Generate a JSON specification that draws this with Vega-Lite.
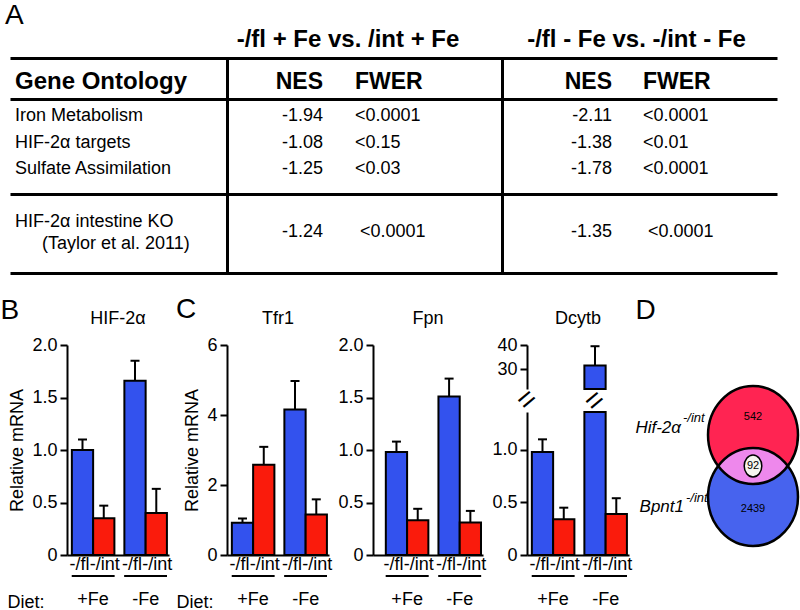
{
"$schema": "https://vega.github.io/schema/vega-lite/v6.json",
"padding": {"left": 0, "top": 2, "right": 0, "bottom": 0},
"background": "white",
"config": {
  "font": "Liberation Sans",
  "view": {"stroke": null},
  "axis": {"domainColor": "black", "tickColor": "black", "labelColor": "black", "titleColor": "black", "labelFontSize": 18, "titleFontSize": 18, "titleFontWeight": "normal", "domainWidth": 2, "tickWidth": 2, "tickSize": 7, "labelPadding": 3, "grid": false, "titlePadding": 5},
  "title": {"color": "black", "fontWeight": "normal"}
},
"datasets": {
  "table": [
    {"row": -1, "col": 1.5, "text": "-/fl + Fe vs. /int + Fe"},
    {"row": -1, "col": 3.5, "text": "-/fl - Fe vs. -/int - Fe"},
    {"row": 0, "col": 0, "text": "Gene Ontology"},
    {"row": 0, "col": 1, "text": "NES"},
    {"row": 0, "col": 2, "text": "FWER"},
    {"row": 0, "col": 3, "text": "NES"},
    {"row": 0, "col": 4, "text": "FWER"},
    {"row": 1, "col": 0, "text": "Iron Metabolism"},
    {"row": 1, "col": 1, "text": "-1.94"},
    {"row": 1, "col": 2, "text": "<0.0001"},
    {"row": 1, "col": 3, "text": "-2.11"},
    {"row": 1, "col": 4, "text": "<0.0001"},
    {"row": 2, "col": 0, "text": "HIF-2α targets"},
    {"row": 2, "col": 1, "text": "-1.08"},
    {"row": 2, "col": 2, "text": "<0.15"},
    {"row": 2, "col": 3, "text": "-1.38"},
    {"row": 2, "col": 4, "text": "<0.01"},
    {"row": 3, "col": 0, "text": "Sulfate Assimilation"},
    {"row": 3, "col": 1, "text": "-1.25"},
    {"row": 3, "col": 2, "text": "<0.03"},
    {"row": 3, "col": 3, "text": "-1.78"},
    {"row": 3, "col": 4, "text": "<0.0001"},
    {"row": 4, "col": 0, "text": "HIF-2α intestine KO", "sub": "(Taylor et al. 2011)"},
    {"row": 4, "col": 1, "text": "-1.24"},
    {"row": 4, "col": 2, "text": "<0.0001"},
    {"row": 4, "col": 3, "text": "-1.35"},
    {"row": 4, "col": 4, "text": "<0.0001"}
  ],
  "bars": [
    {"gene": "HIF-2α", "diet": "+Fe", "genotype": "-/fl", "mean": 1.0, "upper": 1.1},
    {"gene": "HIF-2α", "diet": "+Fe", "genotype": "-/int", "mean": 0.35, "upper": 0.47},
    {"gene": "HIF-2α", "diet": "-Fe", "genotype": "-/fl", "mean": 1.66, "upper": 1.85},
    {"gene": "HIF-2α", "diet": "-Fe", "genotype": "-/int", "mean": 0.4, "upper": 0.63},
    {"gene": "Tfr1", "diet": "+Fe", "genotype": "-/fl", "mean": 0.92, "upper": 1.04},
    {"gene": "Tfr1", "diet": "+Fe", "genotype": "-/int", "mean": 2.58, "upper": 3.09},
    {"gene": "Tfr1", "diet": "-Fe", "genotype": "-/fl", "mean": 4.16, "upper": 4.97},
    {"gene": "Tfr1", "diet": "-Fe", "genotype": "-/int", "mean": 1.16, "upper": 1.59},
    {"gene": "Fpn", "diet": "+Fe", "genotype": "-/fl", "mean": 0.98, "upper": 1.08},
    {"gene": "Fpn", "diet": "+Fe", "genotype": "-/int", "mean": 0.33, "upper": 0.44},
    {"gene": "Fpn", "diet": "-Fe", "genotype": "-/fl", "mean": 1.51, "upper": 1.68},
    {"gene": "Fpn", "diet": "-Fe", "genotype": "-/int", "mean": 0.31, "upper": 0.42},
    {"gene": "Dcytb", "diet": "+Fe", "genotype": "-/fl", "mean": 0.98, "upper": 1.1},
    {"gene": "Dcytb", "diet": "+Fe", "genotype": "-/int", "mean": 0.34, "upper": 0.45},
    {"gene": "Dcytb", "diet": "-Fe", "genotype": "-/fl", "mean": 31.6, "upper": 39.5},
    {"gene": "Dcytb", "diet": "-Fe", "genotype": "-/int", "mean": 0.39, "upper": 0.54}
  ],
  "venn": [
    {"region": "Hif-2α", "label": "Hif-2α", "sup": "-/int", "n": 542},
    {"region": "both", "label": "", "sup": "", "n": 92},
    {"region": "Bpnt1", "label": "Bpnt1", "sup": "-/int", "n": 2439}
  ]
},
"columns": 1,
"align": "none",
"spacing": 23,
"concat": [
  {
    "width": 767, "height": 215,
    "title": {"text": "A", "anchor": "start", "frame": "group", "fontSize": 28, "dx": -5, "offset": -2},
    "data": {"name": "table"},
    "encoding": {
      "x": {"field": "col", "type": "quantitative",
        "scale": {"domain": [-0.1, 0, 0.5, 1, 2, 2.5, 3, 4, 4.5], "range": [0, 5, 217, 313, 345, 492, 602, 633, 767], "zero": false, "nice": false},
        "axis": {"values": [0.5, 2.5], "grid": true, "gridColor": "black", "gridWidth": 3, "gridOpacity": 1, "labels": false, "ticks": false, "domain": false, "title": null}},
      "y": {"field": "row", "type": "quantitative",
        "scale": {"domain": [-0.5, 0, 0.5, 1, 2, 3, 3.5, 4, 4.5], "range": [0, 24, 41, 58, 85, 111, 136, 174, 215], "zero": false, "nice": false},
        "axis": {"values": [-0.5, 0.5, 3.5, 4.5], "grid": true, "gridColor": "black", "gridWidth": 3, "gridOpacity": 1, "labels": false, "ticks": false, "domain": false, "title": null}}
    },
    "layer": [
      {"transform": [{"filter": "datum.row === -1"}],
       "mark": {"type": "text", "align": "center", "baseline": "middle", "fontSize": 24, "fontWeight": "bold", "xOffset": 9, "yOffset": 6},
       "encoding": {"text": {"field": "text", "type": "nominal"}}},
      {"transform": [{"filter": "datum.row === 0 && datum.col === 0"}],
       "mark": {"type": "text", "align": "left", "baseline": "middle", "fontSize": 24, "fontWeight": "bold"},
       "encoding": {"text": {"field": "text", "type": "nominal"}}},
      {"transform": [{"filter": "datum.row === 0 && (datum.col === 2 || datum.col === 4)"}],
       "mark": {"type": "text", "align": "left", "baseline": "middle", "fontSize": 23, "fontWeight": "bold"},
       "encoding": {"text": {"field": "text", "type": "nominal"}}},
      {"transform": [{"filter": "datum.row === 0 && datum.col % 2 === 1"}],
       "mark": {"type": "text", "align": "right", "baseline": "middle", "fontSize": 23, "fontWeight": "bold"},
       "encoding": {"text": {"field": "text", "type": "nominal"}}},
      {"transform": [{"filter": "datum.row > 0 && datum.row < 4 && datum.col % 2 === 0"}],
       "mark": {"type": "text", "align": "left", "baseline": "middle", "fontSize": 18},
       "encoding": {"text": {"field": "text", "type": "nominal"}}},
      {"transform": [{"filter": "datum.row === 4 && datum.col === 0"}],
       "mark": {"type": "text", "align": "left", "baseline": "middle", "fontSize": 18, "yOffset": -10},
       "encoding": {"text": {"field": "text", "type": "nominal"}}},
      {"transform": [{"filter": "datum.row === 4 && datum.col === 0"}],
       "mark": {"type": "text", "align": "left", "baseline": "middle", "fontSize": 18, "yOffset": 12, "xOffset": 27},
       "encoding": {"text": {"field": "sub", "type": "nominal"}}},
      {"transform": [{"filter": "datum.row === 4 && datum.col === 2"}],
       "mark": {"type": "text", "align": "left", "baseline": "middle", "fontSize": 18, "xOffset": 5},
       "encoding": {"text": {"field": "text", "type": "nominal"}}},
      {"transform": [{"filter": "datum.row === 4 && datum.col === 4"}],
       "mark": {"type": "text", "align": "left", "baseline": "middle", "fontSize": 18, "xOffset": 5},
       "encoding": {"text": {"field": "text", "type": "nominal"}}},
      {"transform": [{"filter": "datum.row > 0 && datum.col % 2 === 1"}],
       "mark": {"type": "text", "align": "right", "baseline": "middle", "fontSize": 18},
       "encoding": {"text": {"field": "text", "type": "nominal"}}}
    ]
  },
  {
    "spacing": -14,
    "hconcat": [
      {
        "width": 1, "height": 1,
        "data": {"values": [{"panel": "B"}]},
        "mark": {"type": "text", "fontSize": 28, "align": "left", "baseline": "middle", "dx": -10, "dy": -35},
        "encoding": {"text": {"field": "panel", "type": "nominal"}}
      },
      {
        "spacing": 2,
        "hconcat": [
          {
            "width": 102, "height": 210,
            "title": {"text": "HIF-2α", "fontSize": 18, "offset": 8},
            "data": {"name": "bars"},
            "transform": [{"filter": "datum.gene === 'HIF-2α'"}],
            "encoding": {
              "x": {"field": "diet", "type": "nominal", "scale": {"domain": ["+Fe", "-Fe"], "paddingInner": 0.19, "paddingOuter": 0.066, "align": 0.7},
                "axis": {"title": "Diet:", "labelAngle": 0, "ticks": false, "tickSize": 0, "labelPadding": 35, "titleAnchor": "start", "titleAlign": "right", "titleX": -23, "titleY": 47, "titleBaseline": "middle"}},
              "y": {"field": "mean", "type": "quantitative", "scale": {"domain": [0, 2], "nice": false},
                "axis": {"values": [0, 0.5, 1, 1.5, 2], "labelExpr": "datum.value === 0 ? '0' : format(datum.value, '.1f')", "title": "Relative mRNA"}}
            },
            "layer": [
              {"mark": {"type": "rule", "color": "black", "strokeWidth": 2},
               "encoding": {"xOffset": {"field": "genotype", "type": "nominal", "scale": {"domain": ["-/fl", "-/int"], "paddingInner": 0, "paddingOuter": 0}}, "y2": {"field": "upper"}}},
              {"mark": {"type": "tick", "orient": "horizontal", "color": "black", "size": 9, "thickness": 2, "opacity": 1},
               "encoding": {"xOffset": {"field": "genotype", "type": "nominal"}, "y": {"field": "upper", "type": "quantitative"}}},
              {"mark": {"type": "bar", "stroke": "black", "strokeWidth": 2},
               "encoding": {"xOffset": {"field": "genotype", "type": "nominal"}, "color": {"field": "genotype", "type": "nominal", "scale": {"domain": ["-/fl", "-/int"], "range": ["#3352ee", "#fa1b0c"]}, "legend": null}}},
              {"transform": [{"filter": "datum.genotype === '-/fl'"}],
               "mark": {"type": "text", "baseline": "top", "align": "right", "fontSize": 18, "dy": 1, "dx": 7},
               "encoding": {"xOffset": {"field": "genotype", "type": "nominal"}, "y": {"datum": 0}, "text": {"field": "genotype", "type": "nominal"}}},
              {"transform": [{"filter": "datum.genotype === '-/int'"}],
               "mark": {"type": "text", "baseline": "top", "align": "left", "fontSize": 18, "dy": 1, "dx": -14},
               "encoding": {"xOffset": {"field": "genotype", "type": "nominal"}, "y": {"datum": 0}, "text": {"field": "genotype", "type": "nominal"}}},
              {"mark": {"type": "bar", "color": "black", "yOffset": 20, "y2Offset": 22},
               "encoding": {"y": {"datum": 0}, "y2": {"datum": 0}}}
            ]
          },
          {
            "title": {"text": "C", "anchor": "start", "fontSize": 28, "offset": -14},
            "spacing": 4,
            "hconcat": [
              {
                "width": 102, "height": 210,
                "title": {"text": "Tfr1", "fontSize": 18, "offset": 8},
                "data": {"name": "bars"},
                "transform": [{"filter": "datum.gene === 'Tfr1'"}],
                "encoding": {
                  "x": {"field": "diet", "type": "nominal", "scale": {"domain": ["+Fe", "-Fe"], "paddingInner": 0.19, "paddingOuter": 0.066, "align": 0.7},
                    "axis": {"title": "Diet:", "labelAngle": 0, "ticks": false, "tickSize": 0, "labelPadding": 35, "titleAnchor": "start", "titleAlign": "right", "titleX": -14, "titleY": 47, "titleBaseline": "middle"}},
                  "y": {"field": "mean", "type": "quantitative", "scale": {"domain": [0, 6], "nice": false},
                    "axis": {"values": [0, 2, 4, 6], "title": "Relative mRNA"}}
                },
                "layer": [
                  {"mark": {"type": "rule", "color": "black", "strokeWidth": 2},
                   "encoding": {"xOffset": {"field": "genotype", "type": "nominal", "scale": {"domain": ["-/fl", "-/int"], "paddingInner": 0, "paddingOuter": 0}}, "y2": {"field": "upper"}}},
                  {"mark": {"type": "tick", "orient": "horizontal", "color": "black", "size": 9, "thickness": 2, "opacity": 1},
                   "encoding": {"xOffset": {"field": "genotype", "type": "nominal"}, "y": {"field": "upper", "type": "quantitative"}}},
                  {"mark": {"type": "bar", "stroke": "black", "strokeWidth": 2},
                   "encoding": {"xOffset": {"field": "genotype", "type": "nominal"}, "color": {"field": "genotype", "type": "nominal", "scale": {"domain": ["-/fl", "-/int"], "range": ["#3352ee", "#fa1b0c"]}, "legend": null}}},
                  {"transform": [{"filter": "datum.genotype === '-/fl'"}],
                   "mark": {"type": "text", "baseline": "top", "align": "right", "fontSize": 18, "dy": 1, "dx": 7},
                   "encoding": {"xOffset": {"field": "genotype", "type": "nominal"}, "y": {"datum": 0}, "text": {"field": "genotype", "type": "nominal"}}},
                  {"transform": [{"filter": "datum.genotype === '-/int'"}],
                   "mark": {"type": "text", "baseline": "top", "align": "left", "fontSize": 18, "dy": 1, "dx": -14},
                   "encoding": {"xOffset": {"field": "genotype", "type": "nominal"}, "y": {"datum": 0}, "text": {"field": "genotype", "type": "nominal"}}},
                  {"mark": {"type": "bar", "color": "black", "yOffset": 20, "y2Offset": 22},
                   "encoding": {"y": {"datum": 0}, "y2": {"datum": 0}}}
                ]
              },
              {
                "width": 110, "height": 210,
                "title": {"text": "Fpn", "fontSize": 18, "offset": 8},
                "data": {"name": "bars"},
                "transform": [{"filter": "datum.gene === 'Fpn'"}],
                "encoding": {
                  "x": {"field": "diet", "type": "nominal", "scale": {"domain": ["+Fe", "-Fe"], "paddingInner": 0.19, "paddingOuter": 0.14, "align": 0.87},
                    "axis": {"title": null, "labelAngle": 0, "ticks": false, "tickSize": 0, "labelPadding": 35}},
                  "y": {"field": "mean", "type": "quantitative", "scale": {"domain": [0, 2], "nice": false},
                    "axis": {"values": [0, 0.5, 1, 1.5, 2], "labelExpr": "datum.value === 0 ? '0' : format(datum.value, '.1f')", "title": null}}
                },
                "layer": [
                  {"mark": {"type": "rule", "color": "black", "strokeWidth": 2},
                   "encoding": {"xOffset": {"field": "genotype", "type": "nominal", "scale": {"domain": ["-/fl", "-/int"], "paddingInner": 0, "paddingOuter": 0}}, "y2": {"field": "upper"}}},
                  {"mark": {"type": "tick", "orient": "horizontal", "color": "black", "size": 9, "thickness": 2, "opacity": 1},
                   "encoding": {"xOffset": {"field": "genotype", "type": "nominal"}, "y": {"field": "upper", "type": "quantitative"}}},
                  {"mark": {"type": "bar", "stroke": "black", "strokeWidth": 2},
                   "encoding": {"xOffset": {"field": "genotype", "type": "nominal"}, "color": {"field": "genotype", "type": "nominal", "scale": {"domain": ["-/fl", "-/int"], "range": ["#3352ee", "#fa1b0c"]}, "legend": null}}},
                  {"transform": [{"filter": "datum.genotype === '-/fl'"}],
                   "mark": {"type": "text", "baseline": "top", "align": "right", "fontSize": 18, "dy": 1, "dx": 7},
                   "encoding": {"xOffset": {"field": "genotype", "type": "nominal"}, "y": {"datum": 0}, "text": {"field": "genotype", "type": "nominal"}}},
                  {"transform": [{"filter": "datum.genotype === '-/int'"}],
                   "mark": {"type": "text", "baseline": "top", "align": "left", "fontSize": 18, "dy": 1, "dx": -14},
                   "encoding": {"xOffset": {"field": "genotype", "type": "nominal"}, "y": {"datum": 0}, "text": {"field": "genotype", "type": "nominal"}}},
                  {"mark": {"type": "bar", "color": "black", "yOffset": 20, "y2Offset": 22},
                   "encoding": {"y": {"datum": 0}, "y2": {"datum": 0}}}
                ]
              },
              {
                "spacing": 23,
                "bounds": "flush",
                "vconcat": [
                  {
                    "width": 102, "height": 44,
                    "title": {"text": "Dcytb", "fontSize": 18, "offset": 8},
                    "data": {"name": "bars"},
                    "transform": [{"filter": "datum.gene === 'Dcytb' && datum.mean > 10"}],
                    "encoding": {
                      "x": {"field": "diet", "type": "nominal", "scale": {"domain": ["+Fe", "-Fe"], "paddingInner": 0.19, "paddingOuter": 0.066, "align": 0.7}, "axis": null},
                      "y": {"field": "mean", "type": "quantitative", "scale": {"domain": [22, 40], "nice": false, "zero": false, "clamp": true},
                        "axis": {"values": [30, 40], "title": null}}
                    },
                    "layer": [
                      {"mark": {"type": "rule", "color": "black", "strokeWidth": 2},
                       "encoding": {"xOffset": {"field": "genotype", "type": "nominal", "scale": {"domain": ["-/fl", "-/int"], "paddingInner": 0, "paddingOuter": 0}}, "y2": {"field": "upper"}}},
                      {"mark": {"type": "tick", "orient": "horizontal", "color": "black", "size": 9, "thickness": 2, "opacity": 1},
                       "encoding": {"xOffset": {"field": "genotype", "type": "nominal"}, "y": {"field": "upper", "type": "quantitative"}}},
                      {"mark": {"type": "bar", "stroke": "black", "strokeWidth": 2},
                       "encoding": {"xOffset": {"field": "genotype", "type": "nominal"}, "color": {"field": "genotype", "type": "nominal", "scale": {"domain": ["-/fl", "-/int"], "range": ["#3352ee", "#fa1b0c"]}, "legend": null}}}
                    ]
                  },
                  {
                    "width": 102, "height": 143,
                    "data": {"name": "bars"},
                    "transform": [{"filter": "datum.gene === 'Dcytb'"}],
                    "encoding": {
                      "x": {"field": "diet", "type": "nominal", "scale": {"domain": ["+Fe", "-Fe"], "paddingInner": 0.19, "paddingOuter": 0.066, "align": 0.7},
                        "axis": {"title": null, "labelAngle": 0, "ticks": false, "tickSize": 0, "labelPadding": 35}},
                      "y": {"field": "mean", "type": "quantitative", "scale": {"domain": [0, 1.36], "nice": false, "clamp": true},
                        "axis": {"values": [0, 0.5, 1], "labelExpr": "datum.value === 0 ? '0' : format(datum.value, '.1f')", "title": null}}
                    },
                    "layer": [
                      {"transform": [{"filter": "datum.upper < 2"}],
                       "mark": {"type": "rule", "color": "black", "strokeWidth": 2},
                       "encoding": {"xOffset": {"field": "genotype", "type": "nominal", "scale": {"domain": ["-/fl", "-/int"], "paddingInner": 0, "paddingOuter": 0}}, "y2": {"field": "upper"}}},
                      {"transform": [{"filter": "datum.upper < 2"}],
                       "mark": {"type": "tick", "orient": "horizontal", "color": "black", "size": 9, "thickness": 2, "opacity": 1},
                       "encoding": {"xOffset": {"field": "genotype", "type": "nominal"}, "y": {"field": "upper", "type": "quantitative"}}},
                      {"mark": {"type": "bar", "stroke": "black", "strokeWidth": 2},
                       "encoding": {"xOffset": {"field": "genotype", "type": "nominal"}, "color": {"field": "genotype", "type": "nominal", "scale": {"domain": ["-/fl", "-/int"], "range": ["#3352ee", "#fa1b0c"]}, "legend": null}}},
                      {"transform": [{"filter": "datum.genotype === '-/fl'"}],
                       "mark": {"type": "text", "baseline": "top", "align": "right", "fontSize": 18, "dy": 1, "dx": 7},
                       "encoding": {"xOffset": {"field": "genotype", "type": "nominal"}, "y": {"datum": 0}, "text": {"field": "genotype", "type": "nominal"}}},
                      {"transform": [{"filter": "datum.genotype === '-/int'"}],
                       "mark": {"type": "text", "baseline": "top", "align": "left", "fontSize": 18, "dy": 1, "dx": -14},
                       "encoding": {"xOffset": {"field": "genotype", "type": "nominal"}, "y": {"datum": 0}, "text": {"field": "genotype", "type": "nominal"}}},
                      {"mark": {"type": "bar", "color": "black", "yOffset": 20, "y2Offset": 22},
                       "encoding": {"y": {"datum": 0}, "y2": {"datum": 0}}},
                      {"transform": [{"filter": "datum.mean > 2"}],
                       "mark": {"type": "text", "align": "center", "baseline": "middle", "fontSize": 30, "angle": -40, "yOffset": -11},
                       "encoding": {"xOffset": {"field": "genotype", "type": "nominal"}, "y": {"datum": 1.36}, "text": {"value": "="}}},
                      {"transform": [{"filter": "datum.mean > 2"}],
                       "mark": {"type": "text", "align": "center", "baseline": "middle", "fontSize": 30, "angle": -40, "yOffset": -12, "xOffset": -26},
                       "encoding": {"x": {"datum": "+Fe"}, "y": {"datum": 1.36}, "text": {"value": "="}}}
                    ]
                  }
                ]
              }
            ]
          },
          {
            "title": {"text": "D", "anchor": "start", "fontSize": 28, "offset": 20},
            "width": 80, "height": 210,
            "data": {"name": "venn"},
            "encoding": {
              "y": {"field": "region", "type": "nominal", "scale": {"type": "point", "domain": ["Hif-2α", "both", "Bpnt1"], "range": [90, 152], "padding": 0}, "axis": null}
            },
            "layer": [
              {"transform": [{"filter": "datum.region === 'Hif-2α'"}],
               "mark": {"type": "point", "shape": "M-0.918,0C-0.918,-0.552,-0.507,-1,0,-1C0.507,-1,0.918,-0.552,0.918,0C0.918,0.552,0.507,1,0,1C-0.507,1,-0.918,0.552,-0.918,0Z", "size": 9604, "filled": true, "fill": "#ff2452", "strokeWidth": 0, "opacity": 1}},
              {"transform": [{"filter": "datum.region === 'Bpnt1'"}],
               "mark": {"type": "point", "shape": "M-0.918,0C-0.918,-0.552,-0.507,-1,0,-1C0.507,-1,0.918,-0.552,0.918,0C0.918,0.552,0.507,1,0,1C-0.507,1,-0.918,0.552,-0.918,0Z", "size": 9604, "filled": true, "fill": "#4763ee", "strokeWidth": 0, "opacity": 1}},
              {"transform": [{"filter": "datum.region === 'both'"}],
               "mark": {"type": "point", "shape": "M0.711,0C0.344,0.489,-0.344,0.489,-0.711,0C-0.344,-0.489,0.344,-0.489,0.711,0Z", "size": 9604, "filled": true, "fill": "#ee88ec", "strokeWidth": 0, "opacity": 1}},
              {"transform": [{"filter": "datum.region !== 'both'"}],
               "mark": {"type": "point", "shape": "M-0.918,0C-0.918,-0.552,-0.507,-1,0,-1C0.507,-1,0.918,-0.552,0.918,0C0.918,0.552,0.507,1,0,1C-0.507,1,-0.918,0.552,-0.918,0Z", "size": 9604, "filled": false, "stroke": "black", "strokeWidth": 2.5, "opacity": 1}},
              {"transform": [{"filter": "datum.region === 'both'"}],
               "mark": {"type": "point", "shape": "M-0.8,0C-0.8,-0.552,-0.442,-1,0,-1C0.442,-1,0.8,-0.552,0.8,0C0.8,0.552,0.442,1,0,1C-0.442,1,-0.8,0.552,-0.8,0Z", "size": 484, "filled": true, "fill": "#f5f5ef", "stroke": "black", "strokeWidth": 1.5, "opacity": 1}},
              {"transform": [{"filter": "datum.region === 'Hif-2α'"}],
               "mark": {"type": "text", "fontSize": 11, "baseline": "middle", "yOffset": -18},
               "encoding": {"text": {"field": "n", "type": "quantitative"}}},
              {"transform": [{"filter": "datum.region === 'both'"}],
               "mark": {"type": "text", "fontSize": 11, "baseline": "middle"},
               "encoding": {"text": {"field": "n", "type": "quantitative"}}},
              {"transform": [{"filter": "datum.region === 'Bpnt1'"}],
               "mark": {"type": "text", "fontSize": 11, "baseline": "middle", "yOffset": 12},
               "encoding": {"text": {"field": "n", "type": "quantitative", "format": "d"}}},
              {"transform": [{"filter": "datum.region === 'Hif-2α'"}],
               "mark": {"type": "text", "fontSize": 17, "fontStyle": "italic", "align": "right", "baseline": "middle", "xOffset": -72, "yOffset": -7},
               "encoding": {"text": {"field": "label", "type": "nominal"}}},
              {"transform": [{"filter": "datum.region === 'Hif-2α'"}],
               "mark": {"type": "text", "fontSize": 13, "fontStyle": "italic", "align": "left", "baseline": "middle", "xOffset": -70, "yOffset": -17},
               "encoding": {"text": {"field": "sup", "type": "nominal"}}},
              {"transform": [{"filter": "datum.region === 'Bpnt1'"}],
               "mark": {"type": "text", "fontSize": 17, "fontStyle": "italic", "align": "right", "baseline": "middle", "xOffset": -69, "yOffset": 10},
               "encoding": {"text": {"field": "label", "type": "nominal"}}},
              {"transform": [{"filter": "datum.region === 'Bpnt1'"}],
               "mark": {"type": "text", "fontSize": 13, "fontStyle": "italic", "align": "left", "baseline": "middle", "xOffset": -67, "yOffset": 1},
               "encoding": {"text": {"field": "sup", "type": "nominal"}}}
            ]
          }
        ]
      }
    ]
  }
]
}
